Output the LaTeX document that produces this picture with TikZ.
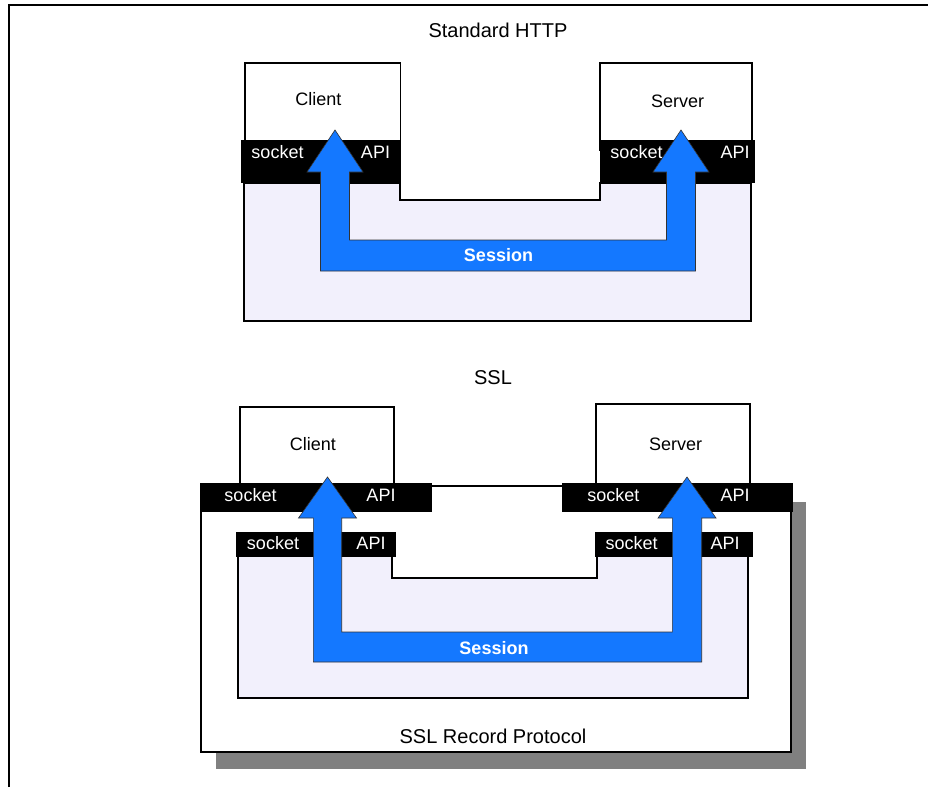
\documentclass[tikz,border=0pt]{standalone}
\usepackage{fontspec}
\setmainfont{Liberation Sans}
\definecolor{lav}{RGB}{242,240,252}
\definecolor{sblue}{RGB}{20,120,255}
\definecolor{shadowgray}{RGB}{128,128,128}
\begin{document}
\begin{tikzpicture}[x=1pt,y=-1pt,
  lbl/.style={font=\fontsize{18}{20}\selectfont, inner sep=0pt, anchor=base},
  wlbl/.style={lbl, text=white},
  ttl/.style={font=\fontsize{20}{22}\selectfont, inner sep=0pt, anchor=base},
  sess/.style={font=\fontsize{18}{20}\selectfont\bfseries, text=white, inner sep=0pt, anchor=base},
  band/.style={fill=black},
  whitebox/.style={draw=black, line width=1.8pt, fill=white},
  region/.style={draw=black, line width=1.8pt, fill=lav},
  sessarrow/.style={fill=sblue, draw=black!80, line width=0.6pt, line join=miter},
  frame/.style={draw=black, line width=1.5pt}]
\useasboundingbox (0,0) rectangle (928,787);
% outer frame
\draw[frame] (9,787) -- (9,5) -- (928,5);

% ===== Standard HTTP =====
\node[ttl] (t1) at (498,37) {Standard HTTP};
\draw[region] (244,183) -- (244,321) -- (751,321) -- (751,183) -- (600,183) -- (600,200) -- (400,200) -- (400,183) -- cycle;
\draw[whitebox] (245,63) rectangle (400.5,150);
\draw[whitebox] (600,63) rectangle (752,150);
\fill[band] (241,140) rectangle (400.7,183);
\fill[band] (600,140) rectangle (755,183);
\node[lbl] (c1) at (318.5,105) {Client};
\node[lbl] (s1) at (677.5,107) {Server};
\node[wlbl] (c1sock) at (277.5,158) {socket};
\node[wlbl] (c1api) at (375.5,158) {API};
\node[wlbl] (s1sock) at (636.5,158) {socket};
\node[wlbl] (s1api) at (735,158) {API};
\draw[sessarrow] (335,130) -- (363,172) -- (349.5,172) -- (349.5,240) -- (666.5,240) -- (666.5,172) -- (653,172) -- (681,130) -- (709,172) -- (695.5,172) -- (695.5,271) -- (320.5,271) -- (320.5,172) -- (307,172) -- cycle;
\node[sess] (sess1) at (498.5,261) {Session};

% ===== SSL =====
\node[ttl] (t2) at (493,384) {SSL};
\fill[shadowgray] (216,502) rectangle (806,769);
\draw[whitebox] (201,486) rectangle (791,752);
\draw[whitebox] (240,407) rectangle (394,492);
\draw[whitebox] (596,404) rectangle (750,492);
\fill[band] (200,483) rectangle (432,512);
\fill[band] (562,483) rectangle (793,512);
\draw[region] (238,556) -- (238,698) -- (748,698) -- (748,556) -- (597,556) -- (597,578) -- (392,578) -- (392,556) -- cycle;
\fill[band] (236,532) rectangle (396,557);
\fill[band] (595,532) rectangle (753,557);
\node[lbl] (c2) at (313,450) {Client};
\node[lbl] (s2) at (675.5,450) {Server};
\node[wlbl] (c2sock) at (250.5,501) {socket};
\node[wlbl] (c2api) at (381,501) {API};
\node[wlbl] (s2sock) at (613.3,501) {socket};
\node[wlbl] (s2api) at (735,501) {API};
\node[wlbl] (c3sock) at (273,549.5) {socket};
\node[wlbl] (c3api) at (371,549.5) {API};
\node[wlbl] (s3sock) at (631.7,549.5) {socket};
\node[wlbl] (s3api) at (725,549.5) {API};
\draw[sessarrow] (327.5,477) -- (356.5,518) -- (341.7,518) -- (341.7,632) -- (672.3,632) -- (672.3,518) -- (658,518) -- (687,477) -- (716,518) -- (701.7,518) -- (701.7,662) -- (313.3,662) -- (313.3,518) -- (298.5,518) -- cycle;
\node[sess] (sess2) at (494,654) {Session};
\node[lbl, font=\fontsize{20}{22}\selectfont] (rec) at (493,743) {SSL Record Protocol};
\end{tikzpicture}
\end{document}
